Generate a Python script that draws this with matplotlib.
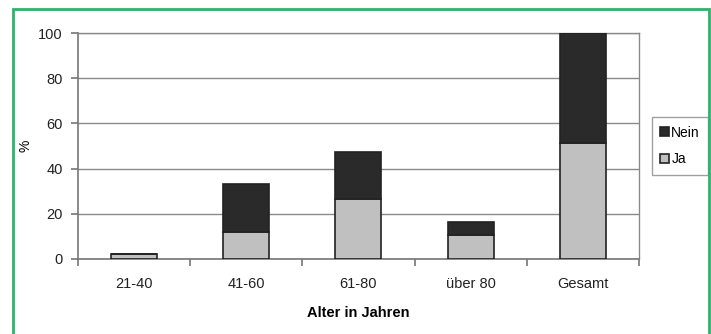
import matplotlib.pyplot as plt
from matplotlib.patches import Rectangle
import numpy as np

plt.rcParams['font.family'] = ['Liberation Sans', 'DejaVu Sans']

# Anteil in Prozent je Altersgruppe
kategorien = ["21-40", "41-60", "61-80", "über 80", "Gesamt"]
ja = [2, 12, 26.5, 10.5, 51.5]
nein = [0, 21, 21, 6, 48.5]

fig = plt.figure(figsize=(7.11, 3.34), dpi=100)
ax = fig.add_axes([0.1097, 0.2246, 0.789, 0.6764])

x = np.arange(len(kategorien))
w = 0.41
ax.bar(x, ja, w, color="#c0c0c0", edgecolor="#222222", linewidth=1.2, label="Ja", zorder=3)
ax.bar(x, nein, w, bottom=ja, color="#2a2a2a", edgecolor="#222222", linewidth=1.2, label="Nein", zorder=3)

ax.set_xlim(-0.5, len(kategorien) - 0.5)
ax.set_ylim(0, 100)
ax.set_yticks(range(0, 101, 20))
ax.yaxis.grid(True, color="#8a8a8a", linewidth=1.0, zorder=1)

for s in ["top", "right"]:
    ax.spines[s].set_color("#8a8a8a")
    ax.spines[s].set_linewidth(1.0)
for s in ["left", "bottom"]:
    ax.spines[s].set_color("#777777")
    ax.spines[s].set_linewidth(1.2)

# x ticks sit between the categories
ax.set_xticks(x)
ax.set_xticklabels(kategorien, fontsize=10.5, color="#222222")
ax.tick_params(axis="x", length=0, pad=13)
ax.set_xticks(np.arange(-0.5, len(kategorien)), minor=True)
ax.tick_params(axis="x", which="minor", length=5, color="#777777", width=1.2)
ax.tick_params(axis="y", length=5, color="#777777", width=1.2, labelsize=10.5, labelcolor="#222222", pad=6)

ax.set_xlabel("Alter in Jahren", fontsize=10.5, fontweight="bold", labelpad=11)
ax.set_ylabel("%", fontsize=10, labelpad=4)

h, l = ax.get_legend_handles_labels()
leg = ax.legend(h[::-1], l[::-1], loc="center left", bbox_to_anchor=(1.023, 0.5),
                fontsize=10, frameon=True, fancybox=False, edgecolor="#888888",
                handlelength=0.6, handleheight=0.6, handletextpad=0.2,
                borderpad=0.6, labelspacing=0.9, borderaxespad=0)
leg.get_frame().set_linewidth(1.0)

# green frame round the figure
fig.patches.append(Rectangle((13 / 711, -0.05), 696 / 711, 1.05 - 9 / 334,
                             transform=fig.transFigure, fill=False,
                             edgecolor="#2eb36a", linewidth=2))

fig.savefig("out.png", dpi=100)
